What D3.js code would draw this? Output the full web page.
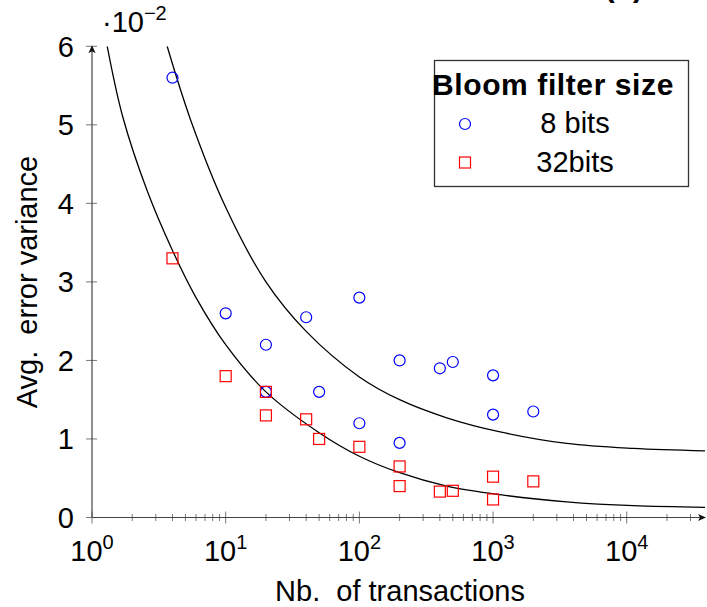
<!DOCTYPE html>
<html>
<head>
<meta charset="utf-8">
<script src="https://cdn.jsdelivr.net/npm/d3@7"></script>
<style>
  body { margin: 0; background: #fff; }
  text { font-family: "Liberation Sans", Arial, sans-serif; fill: #000; }
</style>
</head>
<body>
<script>
const W = 707, H = 607;

// 8 bits bloom filter measurements
const x8  = [4, 10, 20, 20, 40, 50, 100, 100, 200, 200, 400, 500, 1000, 1000, 2000];
const y8  = [5.6, 2.6, 2.2, 1.6, 2.55, 1.6, 2.8, 1.2, 2.0, 0.95, 1.9, 1.98, 1.81, 1.31, 1.35];
// 32 bits bloom filter measurements
const x32 = [4, 10, 20, 20, 40, 50, 100, 200, 200, 400, 500, 1000, 1000, 2000];
const y32 = [3.3, 1.8, 1.6, 1.3, 1.25, 1.0, 0.9, 0.65, 0.4, 0.33, 0.34, 0.52, 0.23, 0.46];
// trend curves
const fitX8  = [3.65, 5.5, 10, 20, 40, 100, 200, 450, 1130, 3550, 11200, 38500];
const fitY8  = [6.0, 5.05, 3.95, 3.0, 2.37, 1.79, 1.50, 1.27, 1.09, 0.943, 0.879, 0.848];
const fitX32 = [1.3, 1.7, 2.6, 4, 6, 10, 20, 50, 100, 200, 450, 1130, 3550, 11200, 38500];
const fitY32 = [6.0, 5.1, 4.15, 3.4, 2.8, 2.2, 1.6, 1.08, 0.78, 0.57, 0.40, 0.29, 0.20, 0.15, 0.13];

const yTicks = [0, 1, 2, 3, 4, 5, 6];
const xDecades = [0, 1, 2, 3, 4];
const legendLabels = ['8 bits', '32bits'];

const x = d3.scaleLog().domain([1, 38500]).range([92, 705]);
const y = d3.scaleLinear().domain([0, 6]).range([517.5, 46.3]);

const svg = d3.select('body').append('svg')
  .attr('width', W)
  .attr('height', H);

svg.append('defs').append('clipPath').attr('id', 'plot')
  .append('rect')
  .attr('x', x.range()[0]).attr('y', y(6))
  .attr('width', x.range()[1] - x.range()[0])
  .attr('height', y(0) - y(6));

// title, mostly cut off at the top
svg.append('text')
  .attr('x', 643).attr('y', -3)
  .attr('text-anchor', 'end')
  .style('font-size', '30px').style('font-weight', 'bold')
  .text('(b)');

// minor + major x ticks
const minor = [];
for (let d = 0; d <= 4; d++) {
  for (let k = 2; k <= 9; k++) {
    const v = k * Math.pow(10, d);
    if (v <= x.domain()[1]) minor.push(v);
  }
}
svg.selectAll('.xminor').data(minor).enter().append('line')
  .attr('x1', d => x(d)).attr('x2', d => x(d))
  .attr('y1', y(0) - 3.5).attr('y2', y(0) + 3.5)
  .attr('stroke', '#777').attr('stroke-width', 1);

svg.selectAll('.xmajor').data(xDecades).enter().append('line')
  .attr('x1', d => x(Math.pow(10, d))).attr('x2', d => x(Math.pow(10, d)))
  .attr('y1', y(0) - 6).attr('y2', y(0) + 6)
  .attr('stroke', '#777').attr('stroke-width', 1);

svg.selectAll('.ytick').data(yTicks).enter().append('line')
  .attr('x1', x(1) - 6).attr('x2', x(1) + 5)
  .attr('y1', d => y(d)).attr('y2', d => y(d))
  .attr('stroke', '#777').attr('stroke-width', 1);

// axis lines with arrow heads
svg.append('line')
  .attr('x1', x(1)).attr('x2', 704)
  .attr('y1', y(0)).attr('y2', y(0))
  .attr('stroke', '#444').attr('stroke-width', 1.2);
svg.append('line')
  .attr('x1', x(1)).attr('x2', x(1))
  .attr('y1', y(0)).attr('y2', y(6) + 1)
  .attr('stroke', '#444').attr('stroke-width', 1.2);

const arrow = 'M0,0 L-8,-3.6 L-6,0 L-8,3.6 Z';
svg.append('path').attr('d', arrow)
  .attr('transform', `translate(706,${y(0)})`).attr('fill', '#111');
svg.append('path').attr('d', arrow)
  .attr('transform', `translate(${x(1)},${y(6) - 1}) rotate(-90)`).attr('fill', '#111');

// tick labels
const xl = svg.selectAll('.xlab').data(xDecades).enter().append('text')
  .attr('x', d => x(Math.pow(10, d)))
  .attr('y', 561)
  .attr('text-anchor', 'middle')
  .style('font-size', '29px');
xl.append('tspan').text('10');
xl.append('tspan').attr('dy', -12).style('font-size', '20px').text(d => d);

svg.selectAll('.ylab').data(yTicks).enter().append('text')
  .attr('x', 74)
  .attr('y', d => y(d) + 10.5)
  .attr('text-anchor', 'end')
  .style('font-size', '29px')
  .text(d => d);

const sc = svg.append('text').attr('x', 102).attr('y', 32).style('font-size', '29px');
sc.append('tspan').text('\u00b710');
sc.append('tspan').attr('dy', -12).style('font-size', '20px').text('\u22122');

// axis titles
svg.append('text')
  .attr('x', 400).attr('y', 601)
  .attr('text-anchor', 'middle')
  .style('font-size', '29px')
  .attr('xml:space', 'preserve')
  .text('Nb.  of transactions');

svg.append('text')
  .attr('transform', 'translate(37,282) rotate(-90)')
  .attr('text-anchor', 'middle')
  .style('font-size', '29px')
  .attr('xml:space', 'preserve')
  .text('Avg.  error variance');

// trend curves
const line = d3.line()
  .x(d => x(d[0]))
  .y(d => y(d[1]))
  .curve(d3.curveCatmullRom.alpha(0.5));

const plot = svg.append('g').attr('clip-path', 'url(#plot)');
plot.append('path')
  .attr('d', line(d3.zip(fitX8, fitY8)))
  .attr('fill', 'none').attr('stroke', '#000').attr('stroke-width', 1.3);
plot.append('path')
  .attr('d', line(d3.zip(fitX32, fitY32)))
  .attr('fill', 'none').attr('stroke', '#000').attr('stroke-width', 1.3);

// markers
svg.selectAll('.m8').data(d3.zip(x8, y8)).enter().append('circle')
  .attr('cx', d => x(d[0])).attr('cy', d => y(d[1]))
  .attr('r', 5.5)
  .attr('fill', 'none').attr('stroke', '#0000ff').attr('stroke-width', 1.2);

svg.selectAll('.m32').data(d3.zip(x32, y32)).enter().append('rect')
  .attr('x', d => x(d[0]) - 5.5).attr('y', d => y(d[1]) - 5.5)
  .attr('width', 11).attr('height', 11)
  .attr('fill', 'none').attr('stroke', '#ff0000').attr('stroke-width', 1.2);

// legend
const lg = svg.append('g');
lg.append('rect')
  .attr('x', 434.5).attr('y', 60.5)
  .attr('width', 254).attr('height', 126)
  .attr('fill', '#fff').attr('stroke', '#333').attr('stroke-width', 1.3);
lg.append('text')
  .attr('x', 553).attr('y', 95)
  .attr('text-anchor', 'middle')
  .style('font-size', '30px').style('font-weight', 'bold')
  .style('letter-spacing', '0.6px')
  .text('Bloom filter size');
lg.append('circle')
  .attr('cx', 465).attr('cy', 124).attr('r', 5.5)
  .attr('fill', 'none').attr('stroke', '#0000ff').attr('stroke-width', 1.2);
lg.append('rect')
  .attr('x', 459.5).attr('y', 157).attr('width', 11).attr('height', 11)
  .attr('fill', 'none').attr('stroke', '#ff0000').attr('stroke-width', 1.2);
lg.selectAll('.ll').data(legendLabels).enter().append('text')
  .attr('x', 575)
  .attr('y', (d, i) => 133 + i * 39)
  .attr('text-anchor', 'middle')
  .style('font-size', '29px')
  .text(d => d);
</script>
</body>
</html>
